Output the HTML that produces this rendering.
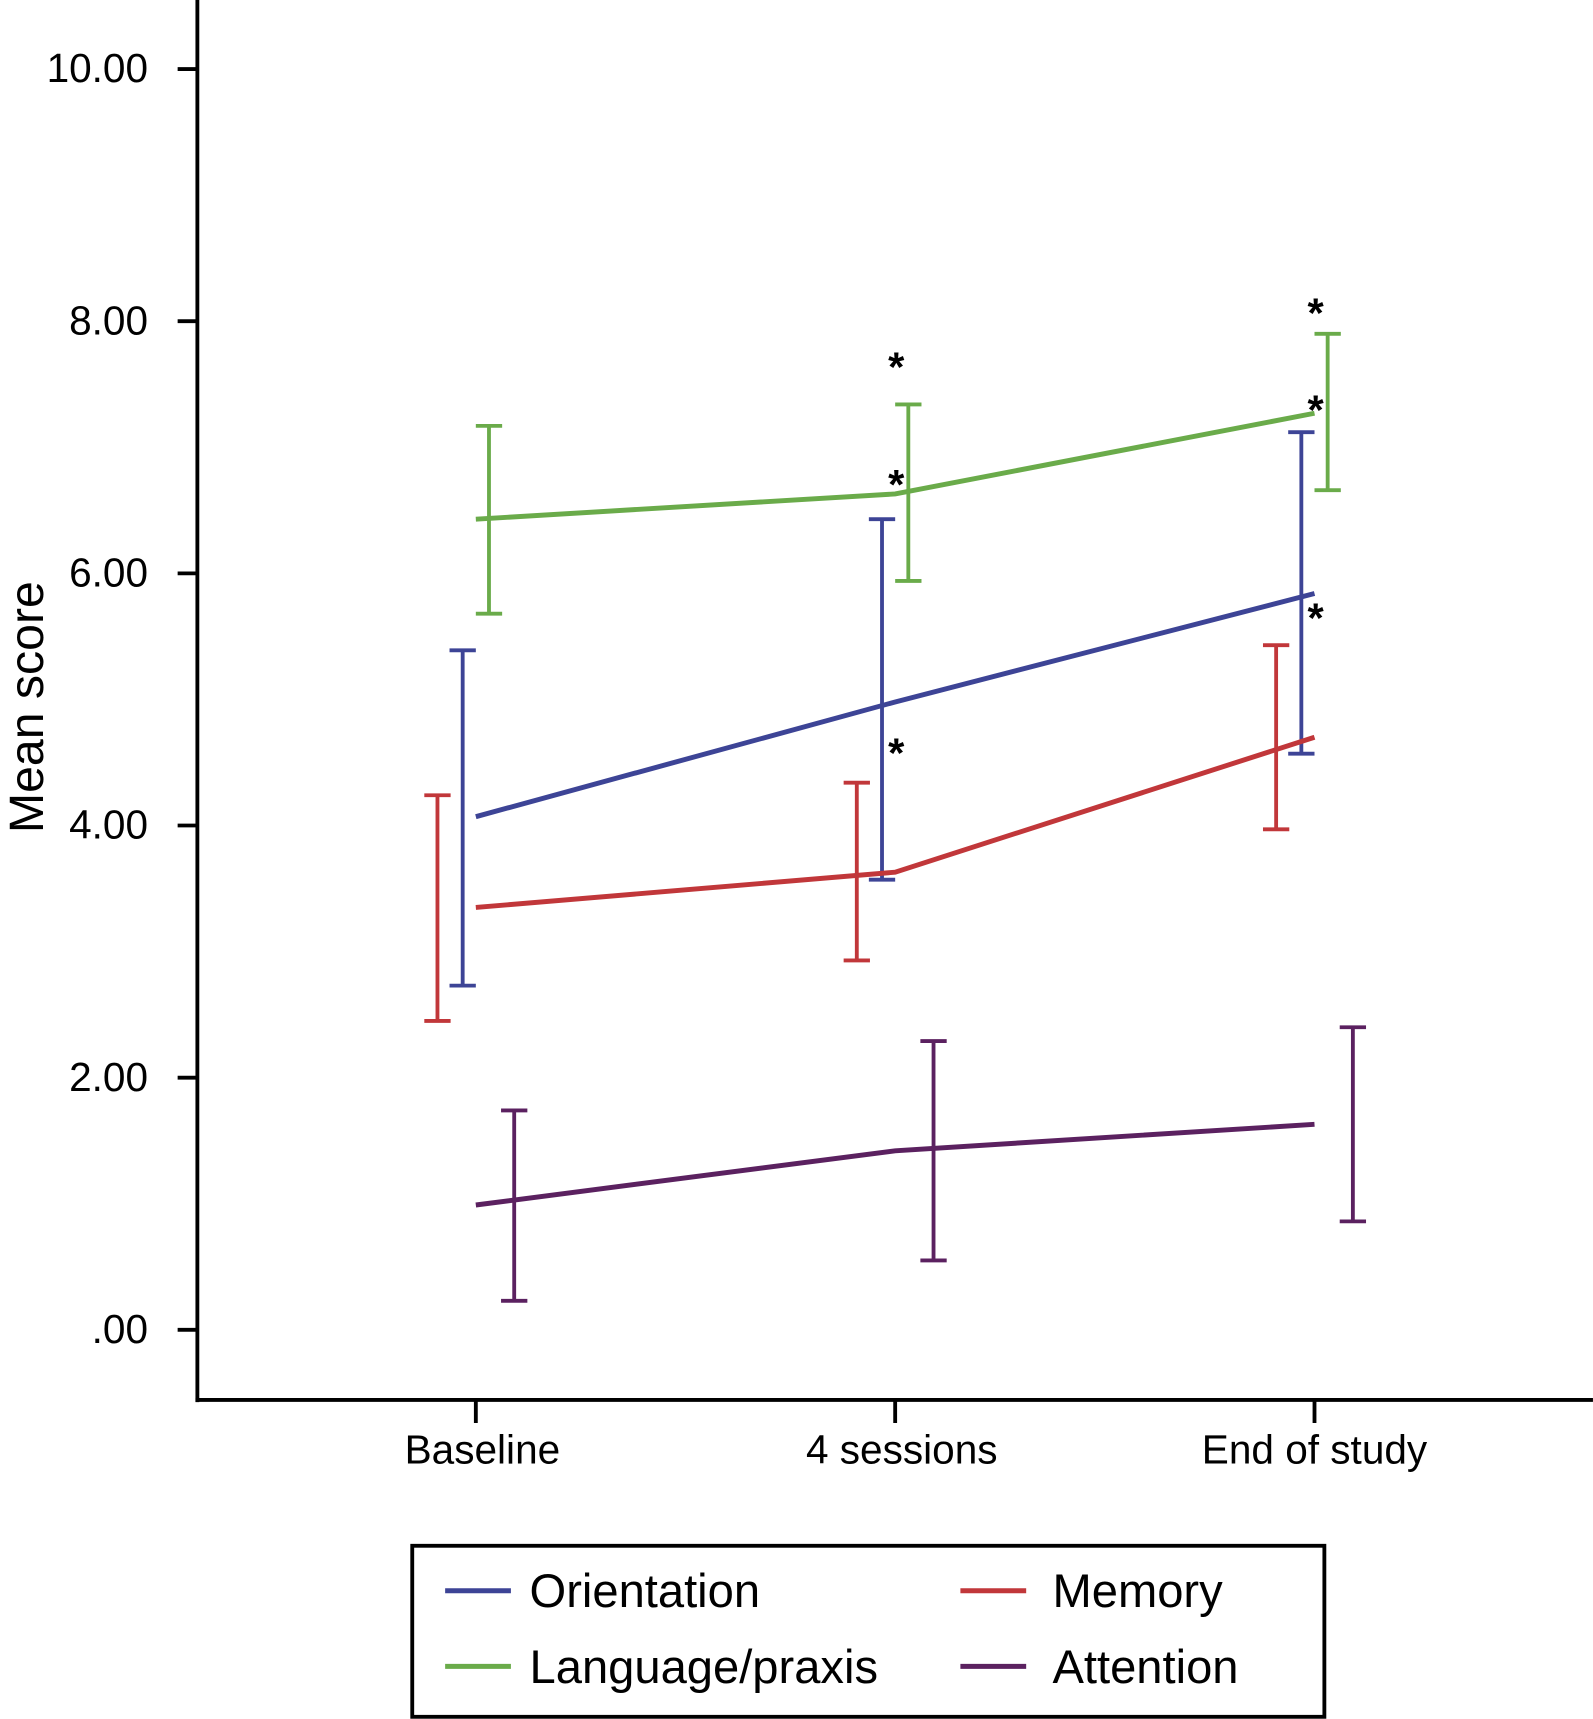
<!DOCTYPE html>
<html><head><meta charset="utf-8"><style>
html,body{margin:0;padding:0;background:#fff;}
svg{display:block;font-family:"Liberation Sans",Arial,sans-serif;}
</style></head><body>
<svg id="chart" width="1593" height="1719" viewBox="0 0 1453 1568" xmlns="http://www.w3.org/2000/svg">
<g id="axes"></g>
<g id="series"></g>
<g id="legend"></g>
</svg>
<script>
const categories = ["Baseline", "4 sessions", "End of study"];
const yTicks = [0, 2, 4, 6, 8, 10];
const yTickLabels = [".00", "2.00", "4.00", "6.00", "8.00", "10.00"];
const orientationMean = [4.07, 4.98, 5.84];
const orientationHigh = [5.39, 6.43, 7.12];
const orientationLow = [2.73, 3.57, 4.57];
const memoryMean = [3.35, 3.63, 4.70];
const memoryHigh = [4.24, 4.34, 5.43];
const memoryLow = [2.45, 2.93, 3.97];
const languageMean = [6.43, 6.63, 7.27];
const languageHigh = [7.17, 7.34, 7.90];
const languageLow = [5.68, 5.94, 6.66];
const attentionMean = [0.99, 1.42, 1.63];
const attentionHigh = [1.74, 2.29, 2.40];
const attentionLow = [0.23, 0.55, 0.86];
const seriesNames = ["Orientation", "Memory", "Language/praxis", "Attention"];
// asterisks: [categoryIndex, value]
const starCats = [1, 1, 1, 2, 2, 2];
const starVals = [7.6, 6.67, 4.54, 8.03, 7.26, 5.61];

const NS = "http://www.w3.org/2000/svg";
const X0 = 180, XEND = 1453, YAX = 1277;
const y = v => 1213 - v * 115;
const x = i => 434 + i * 382.5;

function el(tag, attrs, parent, text) {
  const e = document.createElementNS(NS, tag);
  for (const k in attrs) e.setAttribute(k, attrs[k]);
  if (text !== undefined) e.textContent = text;
  parent.appendChild(e);
  return e;
}
const axes = document.getElementById('axes');
const series = document.getElementById('series');
const legend = document.getElementById('legend');

let a = el('line', {x1: X0, y1: 0, x2: X0, y2: YAX + 2, stroke: '#000', 'stroke-width': 3.5}, axes);


a = el('line', {x1: X0 - 1.75, y1: YAX, x2: XEND, y2: YAX, stroke: '#000', 'stroke-width': 3.5}, axes);



yTicks.forEach((v, i) => {
  const t = el('line', {x1: 162, y1: y(v), x2: X0, y2: y(v), stroke: '#000', 'stroke-width': 3.5}, axes);
  
  
  const l = el('text', {x: 135, y: y(v) + 12, 'text-anchor': 'end', 'font-size': 37}, axes, yTickLabels[i]);
  
  
});
categories.forEach((c, i) => {
  const t = el('line', {x1: x(i), y1: YAX, x2: x(i), y2: 1298, stroke: '#000', 'stroke-width': 3.5}, axes);
  
  
  const l = el('text', {x: x(i) + (i === 2 ? 0 : 6), y: 1335, 'text-anchor': 'middle', 'font-size': 37}, axes, c);
  
  
});
const yt = el('text', {x: 0, y: 0, transform: 'translate(39,645) rotate(-90)', 'text-anchor': 'middle', 'font-size': 44}, axes, 'Mean score');



const defs = [
  {mean: orientationMean, hi: orientationHigh, lo: orientationLow, color: '#3d4496', off: -12, name: 'orientation'},
  {mean: memoryMean, hi: memoryHigh, lo: memoryLow, color: '#c1373a', off: -35, name: 'memory'},
  {mean: languageMean, hi: languageHigh, lo: languageLow, color: '#6aab4a', off: 12, name: 'language'},
  {mean: attentionMean, hi: attentionHigh, lo: attentionLow, color: '#5b2160', off: 35, name: 'attention'}
];
defs.forEach(d => {
  const pts = d.mean.map((v, i) => x(i) + ',' + y(v)).join(' ');
  const pl = el('polyline', {points: pts, fill: 'none', stroke: d.color, 'stroke-width': 4.5}, series);
  
  
  d.mean.forEach((v, i) => {
    const bx = x(i) + d.off;
    const g = el('g', {stroke: d.color, 'stroke-width': 3.5}, series);
    
    
    el('line', {x1: bx, y1: y(d.hi[i]), x2: bx, y2: y(d.lo[i])}, g);
    el('line', {x1: bx - 12, y1: y(d.hi[i]), x2: bx + 12, y2: y(d.hi[i])}, g);
    el('line', {x1: bx - 12, y1: y(d.lo[i]), x2: bx + 12, y2: y(d.lo[i])}, g);
  });
});
starCats.forEach((c, i) => {
  const s = el('text', {x: x(c) + 1, y: y(starVals[i]) + 9, 'text-anchor': 'middle', 'font-size': 38, 'font-weight': 'bold'}, series, '*');
  
  
});

const box = el('rect', {x: 376, y: 1410, width: 832, height: 156, fill: 'none', stroke: '#000', 'stroke-width': 3.5}, legend);


const legPos = [[406, 1451], [876, 1451], [406, 1520], [876, 1520]];
const legTextX = [483, 960, 483, 960];
const legColors = ['#3d4496', '#c1373a', '#6aab4a', '#5b2160'];
seriesNames.forEach((n, i) => {
  const g = el('g', {}, legend);
  
  
  const [lx, ly] = legPos[i];
  el('line', {x1: lx, y1: ly, x2: lx + 60, y2: ly, stroke: legColors[i], 'stroke-width': 4.5}, g);
  el('text', {x: legTextX[i], y: ly + 15, 'font-size': 43}, g, n);
});
</script>
</body></html>
